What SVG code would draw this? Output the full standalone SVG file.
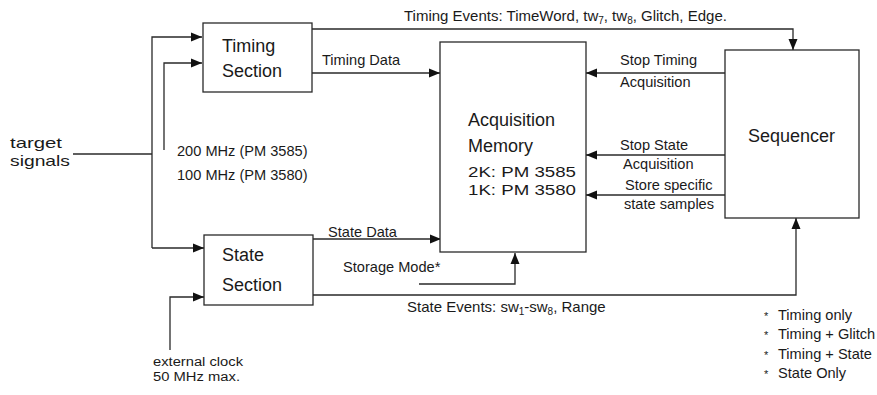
<svg xmlns="http://www.w3.org/2000/svg" width="877" height="395" viewBox="0 0 877 395">
<style>
text{font-family:"Liberation Sans",Arial,sans-serif;fill:#1a1a1a}
.big{font-size:18px}
.mem{font-size:15.5px}
.lbl{font-size:14.6px}
.sm{font-size:12px}
.ev{font-size:15px}
.ast{font-size:11px}
.box{fill:#fff;stroke:#2a2a2a;stroke-width:1.3}
.ln{fill:none;stroke:#2a2a2a;stroke-width:1.3}
</style>
<defs>
<marker id="ah" markerUnits="userSpaceOnUse" markerWidth="12" markerHeight="10" refX="11" refY="5" orient="auto">
<path d="M0,0.5 L11,5 L0,9.5 Z" fill="#111"/>
</marker>
</defs>
<rect width="877" height="395" fill="#fff"/>

<g id="connectors">
<path class="ln" d="M73,154 H152"/>
<path class="ln" d="M152,248 V37 H202" marker-end="url(#ah)"/>
<path class="ln" d="M152,248 H204" marker-end="url(#ah)"/>
<path class="ln" d="M164,150 V63 H202" marker-end="url(#ah)"/>
<path class="ln" d="M170,350 V297 H204" marker-end="url(#ah)"/>
<path class="ln" d="M312,73 H440" marker-end="url(#ah)"/>
<path class="ln" d="M313,239 H441" marker-end="url(#ah)"/>
<path class="ln" d="M419,284 H515 V253" marker-end="url(#ah)"/>
<path class="ln" d="M312,29 H793 V50" marker-end="url(#ah)"/>
<path class="ln" d="M313,295 H796 V218" marker-end="url(#ah)"/>
<path class="ln" d="M725,73 H586" marker-end="url(#ah)"/>
<path class="ln" d="M725,155 H586" marker-end="url(#ah)"/>
<path class="ln" d="M725,195 H586" marker-end="url(#ah)"/>
</g>

<g id="timing-section">
<rect class="box" x="203" y="23" width="109" height="69"/>
<text class="big" x="222" y="52">Timing</text>
<text class="big" x="222" y="77">Section</text>
</g>

<g id="state-section">
<rect class="box" x="204" y="235" width="109" height="70"/>
<text class="big" x="222" y="261">State</text>
<text class="big" x="222" y="291">Section</text>
</g>

<g id="acquisition-memory">
<rect class="box" x="440" y="42" width="146" height="210"/>
<text class="big" x="468" y="126">Acquisition</text>
<text class="big" x="468" y="152">Memory</text>
<text class="mem" x="468" y="177" textLength="108" lengthAdjust="spacingAndGlyphs">2K: PM 3585</text>
<text class="mem" x="468" y="195" textLength="108" lengthAdjust="spacingAndGlyphs">1K: PM 3580</text>
</g>

<g id="sequencer">
<rect class="box" x="725" y="50" width="134" height="168"/>
<text class="big" x="748" y="142">Sequencer</text>
</g>

<g id="labels">
<text class="ev" x="10" y="148" textLength="52" lengthAdjust="spacingAndGlyphs">target</text>
<text class="ev" x="10" y="166" textLength="60" lengthAdjust="spacingAndGlyphs">signals</text>
<text class="lbl" x="177" y="156">200 MHz (PM 3585)</text>
<text class="lbl" x="177" y="180">100 MHz (PM 3580)</text>
<text class="sm" x="153" y="366" textLength="90" lengthAdjust="spacingAndGlyphs">external clock</text>
<text class="sm" x="153" y="381" textLength="87" lengthAdjust="spacingAndGlyphs">50 MHz max.</text>
<text class="lbl" x="322" y="65">Timing Data</text>
<text class="lbl" x="328" y="237">State Data</text>
<text class="lbl" x="343" y="272">Storage Mode*</text>
<text class="ev" x="404" y="21">Timing Events: TimeWord, tw<tspan font-size="10" dy="3">7</tspan><tspan dy="-3">, tw</tspan><tspan font-size="10" dy="3">8</tspan><tspan dy="-3">, Glitch, Edge.</tspan></text>
<text class="ev" x="407" y="312">State Events: sw<tspan font-size="10" dy="3">1</tspan><tspan dy="-3">-sw</tspan><tspan font-size="10" dy="3">8</tspan><tspan dy="-3">, Range</tspan></text>
<text class="lbl" x="620" y="65">Stop Timing</text>
<text class="lbl" x="620" y="87">Acquisition</text>
<text class="lbl" x="620" y="150">Stop State</text>
<text class="lbl" x="623" y="169">Acquisition</text>
<text class="lbl" x="625" y="190">Store specific</text>
<text class="lbl" x="624" y="209">state samples</text>
</g>

<g id="legend">
<text class="ast" x="764" y="320">*</text><text class="lbl" x="778" y="320">Timing only</text>
<text class="ast" x="764" y="339">*</text><text class="lbl" x="778" y="339">Timing + Glitch</text>
<text class="ast" x="764" y="359">*</text><text class="lbl" x="778" y="359">Timing + State</text>
<text class="ast" x="764" y="378">*</text><text class="lbl" x="778" y="378">State Only</text>
</g>
</svg>
